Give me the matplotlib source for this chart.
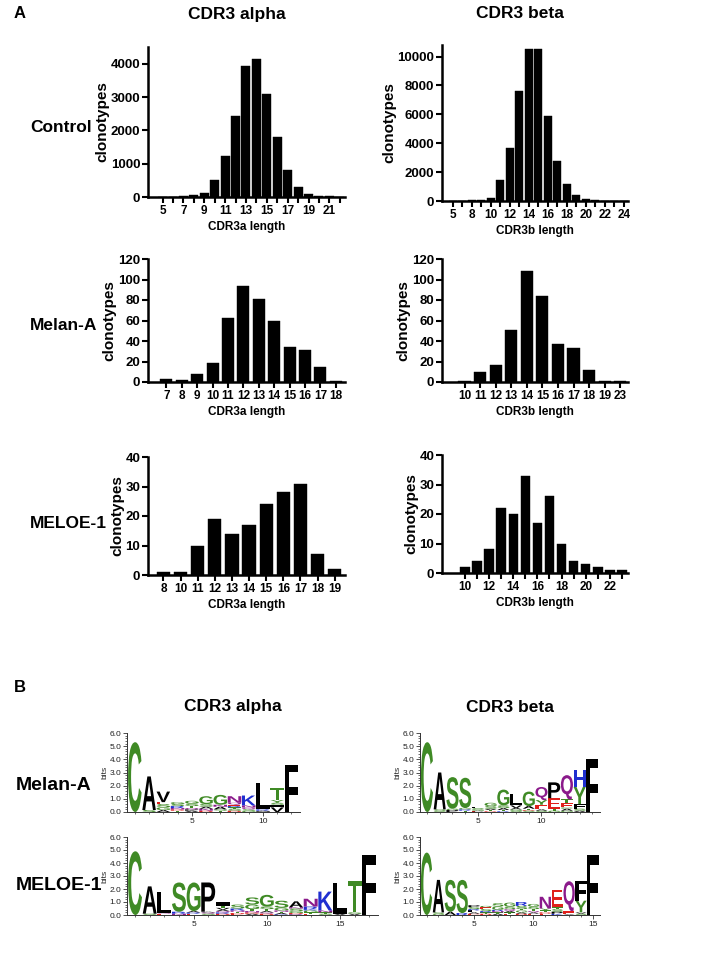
import matplotlib
matplotlib.use("Agg")
import matplotlib.pyplot as plt
from matplotlib.textpath import TextPath
from matplotlib.patches import PathPatch
from matplotlib.font_manager import FontProperties
import matplotlib.transforms as mtransforms
from matplotlib.ticker import MultipleLocator, FixedLocator

plt.rcParams['font.family'] = ['Liberation Sans', 'DejaVu Sans']
plt.rcParams['font.weight'] = 'bold'

# ---------------- Panel A data ----------------
ctrl_a_len = [5, 6, 7, 8, 9, 10, 11, 12, 13, 14, 15, 16, 17, 18, 19, 20, 21, 22]
ctrl_a_val = [10, 10, 30, 50, 130, 510, 1240, 2420, 3920, 4140, 3080, 1790, 800, 290, 80, 40, 20, 10]

ctrl_b_len = [5, 7, 8, 9, 10, 11, 12, 13, 14, 15, 16, 17, 18, 19, 20, 21, 22, 23, 24]
ctrl_b_val = [20, 30, 40, 60, 200, 1450, 3700, 7650, 10550, 10500, 5900, 2800, 1150, 420, 130, 60, 30, 15, 10]

mel_a_len = [7, 8, 9, 10, 11, 12, 13, 14, 15, 16, 17, 18]
mel_a_val = [3, 2, 8, 19, 62, 94, 81, 60, 34, 31, 15, 1]

mel_b_len = [10, 11, 12, 13, 14, 15, 16, 17, 18, 19, 23]
mel_b_val = [1, 10, 17, 51, 108, 84, 37, 33, 12, 1, 1]

meloe_a_len = [8, 10, 11, 12, 13, 14, 15, 16, 17, 18, 19]
meloe_a_val = [1, 1, 10, 19, 14, 17, 24, 28, 31, 7, 2]

meloe_b_len = [10, 11, 12, 13, 14, 15, 16, 17, 18, 19, 20, 21, 22, 23]
meloe_b_val = [2, 4, 8, 22, 20, 33, 17, 26, 10, 4, 3, 2, 1, 1]

# ---------------- Panel B data (letter, bits) bottom -> top ----------------
logo_melanA_alpha = [
    [('C', 5.3)],
    [('S', 0.15), ('A', 2.55)],
    [('A', 0.15), ('G', 0.2), ('S', 0.25), ('E', 0.15), ('V', 0.8)],
    [('T', 0.1), ('D', 0.1), ('N', 0.1), ('R', 0.15), ('S', 0.15), ('G', 0.15)],
    [('A', 0.1), ('P', 0.1), ('Q', 0.1), ('T', 0.15), ('S', 0.2), ('G', 0.2)],
    [('D', 0.1), ('N', 0.15), ('A', 0.15), ('S', 0.2), ('G', 0.6)],
    [('T', 0.1), ('S', 0.1), ('A', 0.2), ('N', 0.15), ('G', 0.75)],
    [('D', 0.1), ('S', 0.15), ('T', 0.1), ('R', 0.1), ('E', 0.1), ('Q', 0.15), ('N', 0.5)],
    [('G', 0.1), ('S', 0.1), ('Q', 0.15), ('N', 0.15), ('K', 0.75)],
    [('M', 0.05), ('A', 0.05), ('R', 0.1), ('L', 2.0)],
    [('V', 0.35), ('I', 0.2), ('S', 0.15), ('Y', 0.2), ('T', 0.9)],
    [('F', 3.6)],
]

logo_melanA_beta = [
    [('C', 5.3)],
    [('G', 0.05), ('S', 0.15), ('A', 2.8)],
    [('P', 0.15), ('G', 0.1), ('S', 2.4)],
    [('T', 0.1), ('R', 0.1), ('G', 0.1), ('S', 2.3)],
    [('E', 0.05), ('A', 0.05), ('G', 0.1), ('S', 0.1), ('L', 0.05)],
    [('D', 0.05), ('T', 0.1), ('A', 0.1), ('S', 0.2), ('G', 0.25)],
    [('R', 0.05), ('T', 0.1), ('A', 0.15), ('S', 0.2), ('G', 1.2)],
    [('S', 0.1), ('G', 0.1), ('A', 0.1), ('V', 0.2), ('L', 0.9)],
    [('S', 0.1), ('D', 0.05), ('T', 0.1), ('A', 0.2), ('G', 1.1)],
    [('S', 0.1), ('A', 0.1), ('E', 0.35), ('Y', 0.35), ('Q', 1.0)],
    [('G', 0.1), ('T', 0.15), ('E', 0.8), ('P', 1.2)],
    [('G', 0.1), ('A', 0.15), ('C', 0.1), ('E', 0.3), ('T', 0.3), ('Q', 1.85)],
    [('A', 0.1), ('S', 0.15), ('F', 0.35), ('Y', 1.3), ('H', 1.3)],
    [('F', 4.0)],
]

logo_meloe_alpha = [
    [('C', 4.9)],
    [('S', 0.1), ('A', 2.1)],
    [('E', 0.1), ('Q', 0.05), ('L', 1.65)],
    [('N', 0.1), ('R', 0.15), ('S', 2.25)],
    [('E', 0.1), ('R', 0.1), ('A', 0.1), ('G', 2.2)],
    [('S', 0.1), ('Q', 0.1), ('A', 0.05), ('P', 2.25)],
    [('D', 0.1), ('R', 0.1), ('Q', 0.1), ('A', 0.1), ('V', 0.15), ('T', 0.15), ('I', 0.3)],
    [('E', 0.05), ('D', 0.1), ('T', 0.1), ('N', 0.1), ('R', 0.15), ('S', 0.3)],
    [('A', 0.1), ('D', 0.1), ('N', 0.1), ('T', 0.15), ('G', 0.35), ('S', 0.55)],
    [('D', 0.1), ('Q', 0.1), ('A', 0.1), ('T', 0.15), ('S', 0.2), ('G', 0.9)],
    [('K', 0.05), ('A', 0.1), ('T', 0.1), ('N', 0.1), ('G', 0.2), ('S', 0.55)],
    [('R', 0.05), ('D', 0.1), ('G', 0.15), ('S', 0.2), ('N', 0.1), ('A', 0.45)],
    [('E', 0.1), ('T', 0.1), ('G', 0.15), ('K', 0.1), ('R', 0.2), ('N', 0.6)],
    [('S', 0.1), ('T', 0.1), ('N', 0.15), ('K', 1.45)],
    [('V', 0.1), ('I', 0.1), ('L', 2.3)],
    [('V', 0.1), ('S', 0.1), ('T', 2.4)],
    [('F', 4.6)],
]

logo_meloe_beta = [
    [('C', 4.8)],
    [('G', 0.1), ('S', 0.1), ('A', 2.5)],
    [('A', 0.25), ('S', 2.45)],
    [('R', 0.15), ('S', 2.55)],
    [('E', 0.05), ('D', 0.05), ('A', 0.1), ('L', 0.15), ('R', 0.1), ('S', 0.15), ('P', 0.15)],
    [('D', 0.1), ('T', 0.1), ('R', 0.1), ('S', 0.15), ('E', 0.15), ('G', 0.1)],
    [('A', 0.1), ('T', 0.1), ('N', 0.1), ('R', 0.1), ('G', 0.25), ('S', 0.25)],
    [('E', 0.1), ('T', 0.1), ('A', 0.1), ('Q', 0.15), ('S', 0.2), ('G', 0.3)],
    [('D', 0.1), ('A', 0.1), ('G', 0.15), ('T', 0.1), ('S', 0.25), ('R', 0.3)],
    [('E', 0.1), ('A', 0.1), ('Q', 0.1), ('T', 0.15), ('S', 0.2), ('G', 0.2)],
    [('E', 0.1), ('D', 0.1), ('T', 0.15), ('Y', 0.15), ('N', 0.9)],
    [('K', 0.1), ('P', 0.15), ('S', 0.2), ('T', 0.15), ('E', 1.35)],
    [('A', 0.05), ('E', 0.25), ('Q', 2.3)],
    [('S', 0.1), ('V', 0.1), ('Y', 0.9), ('F', 1.5)],
    [('F', 4.6)],
]

AA_COLORS = {}
for aa in 'GSTYC':
    AA_COLORS[aa] = '#3f8a25'
for aa in 'NQ':
    AA_COLORS[aa] = '#8b1a8b'
for aa in 'KRH':
    AA_COLORS[aa] = '#1f2fd0'
for aa in 'DE':
    AA_COLORS[aa] = '#e0201b'
for aa in 'PAWFLIMV':
    AA_COLORS[aa] = '#000000'

W, H = 714, 976
fig = plt.figure(figsize=(W / 100, H / 100), dpi=100)


def px_axes(left, right, top, bottom):
    return fig.add_axes([left / W, 1 - bottom / H, (right - left) / W, (bottom - top) / H])


def ftext(x, y, s, size, ha='left', va='center'):
    fig.text(x / W, 1 - y / H, s, fontsize=size, fontweight='bold', ha=ha, va=va)


def hist_panel(ax, cats, vals, ymax, ystep, label_every, xlabel, width, xl, xr):
    n = len(cats)
    xs = list(range(n))
    ax.bar(xs, vals, width=width, color='black', edgecolor='black', linewidth=0.3)
    ax.set_xlim(xl, n - 1 + xr)
    ax.set_ylim(0, ymax)
    ax.spines['top'].set_visible(False)
    ax.spines['right'].set_visible(False)
    for sp in ('left', 'bottom'):
        ax.spines[sp].set_linewidth(1.8)
    ax.set_xticks(xs)
    ax.set_xticklabels([str(c) if i % label_every == 0 else '' for i, c in enumerate(cats)],
                       fontsize=8.5, fontweight='bold')
    ax.yaxis.set_major_locator(MultipleLocator(ystep))
    for lab in ax.get_yticklabels():
        lab.set_fontweight('bold')
        lab.set_fontsize(9.5)
    ax.tick_params(axis='both', direction='out', length=4, width=1.5, pad=1.5)
    ax.set_ylabel('clonotypes', fontsize=11, fontweight='bold', labelpad=1)
    ax.set_xlabel(xlabel, fontsize=8.5, fontweight='bold', labelpad=3)


# Panel A
axA = [
    (px_axes(148, 345, 47, 197), ctrl_a_len, ctrl_a_val, 4500, 1000, 2, 'CDR3a length', 0.86, -1.4, 0.5),
    (px_axes(442, 628, 45, 201), ctrl_b_len, ctrl_b_val, 10800, 2000, 2, 'CDR3b length', 0.86, -1.15, 0.45),
    (px_axes(148, 345, 259, 382), mel_a_len, mel_a_val, 120, 20, 1, 'CDR3a length', 0.78, -1.2, 0.6),
    (px_axes(442, 628, 259, 382), mel_b_len, mel_b_val, 120, 20, 1, 'CDR3b length', 0.78, -1.45, 0.5),
    (px_axes(148, 345, 457, 575), meloe_a_len, meloe_a_val, 40, 10, 1, 'CDR3a length', 0.78, -0.9, 0.6),
    (px_axes(442, 628, 455, 573), meloe_b_len, meloe_b_val, 40, 10, 2, 'CDR3b length', 0.78, -1.9, 0.5),
]
for ax, c, v, ym, ys, le, xl, w, a, b in axA:
    hist_panel(ax, c, v, ym, ys, le, xl, w, a, b)

ftext(14, 14, 'A', 12)
ftext(237, 14, 'CDR3 alpha', 12.5, ha='center')
ftext(520, 14, 'CDR3 beta', 12.5, ha='center')
ftext(30, 128, 'Control', 12.5)
ftext(30, 325, 'Melan-A', 12.5)
ftext(30, 524, 'MELOE-1', 12.5)

# Panel B
FP = FontProperties(family='Liberation Sans', weight='bold')


def draw_letter(ax, letter, x, y, w, h, color):
    tp = TextPath((0, 0), letter, size=1, prop=FP)
    bb = tp.get_extents()
    tr = (mtransforms.Affine2D()
          .translate(-bb.x0, -bb.y0)
          .scale(w / bb.width, h / bb.height)
          .translate(x - w / 2, y))
    ax.add_patch(PathPatch(tr.transform_path(tp), fc=color, ec='none', lw=0))


def logo_panel(ax, stacks, xmax):
    for i, stack in enumerate(stacks):
        pos = i + 1
        y = 0.0
        for letter, h in stack:
            draw_letter(ax, letter, pos, y, 0.95, h, AA_COLORS[letter])
            y += h
    ax.set_xlim(0.45, xmax)
    ax.set_ylim(0, 6.0)
    ax.spines['top'].set_visible(False)
    ax.spines['right'].set_visible(False)
    for sp in ('left', 'bottom'):
        ax.spines[sp].set_linewidth(0.7)
        ax.spines[sp].set_color('#333333')
    ax.yaxis.set_major_locator(MultipleLocator(1.0))
    ax.yaxis.set_minor_locator(MultipleLocator(0.2))
    ax.set_yticklabels(['%.1f' % t for t in ax.get_yticks()])
    ax.xaxis.set_major_locator(FixedLocator([5, 10, 15]))
    ax.xaxis.set_minor_locator(MultipleLocator(1))
    ax.tick_params(axis='both', which='major', labelsize=6, length=3, width=0.6, pad=1,
                   colors='#333333', labelcolor='#222222')
    ax.tick_params(axis='both', which='minor', length=1.5, width=0.5, colors='#333333')
    for lab in ax.get_xticklabels() + ax.get_yticklabels():
        lab.set_fontweight('normal')
    ax.set_ylabel('bits', fontsize=6, fontweight='normal', labelpad=1, color='#222222')


logo_panel(px_axes(127, 300, 733, 812), logo_melanA_alpha, 12.6)
logo_panel(px_axes(420, 600, 733, 812), logo_melanA_beta, 14.6)
logo_panel(px_axes(127, 378, 837, 915), logo_meloe_alpha, 17.6)
logo_panel(px_axes(420, 600, 837, 915), logo_meloe_beta, 15.6)

ftext(14, 688, 'B', 12)
ftext(233, 707, 'CDR3 alpha', 12.5, ha='center')
ftext(510, 707, 'CDR3 beta', 12.5, ha='center')
ftext(16, 785, 'Melan-A', 14)
ftext(16, 885, 'MELOE-1', 14)

fig.savefig('out.png', dpi=100)
